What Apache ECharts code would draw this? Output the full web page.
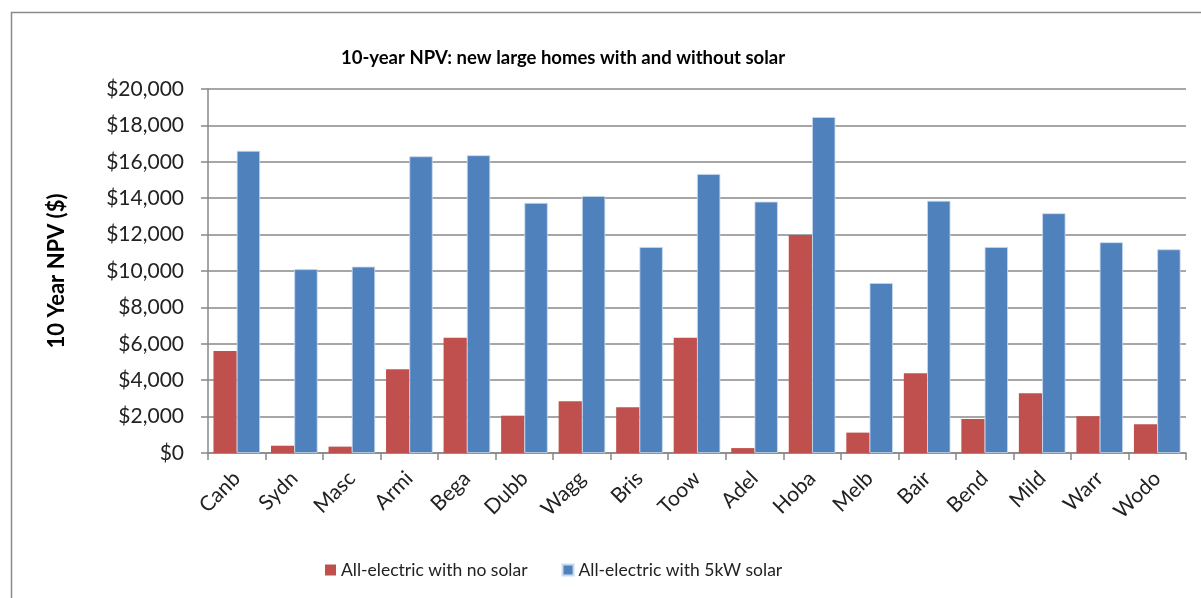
<!DOCTYPE html>
<html>
<head>
<meta charset="utf-8">
<script src="https://cdn.jsdelivr.net/npm/echarts@6/dist/echarts.min.js"></script>
<style>
html,body{margin:0;padding:0;background:#fff;}
#chart{width:1201px;height:598px;}
</style>
</head>
<body>
<div id="chart"></div>
<script>
const categories = ["Canb","Sydn","Masc","Armi","Bega","Dubb","Wagg","Bris","Toow","Adel","Hoba","Melb","Bair","Bend","Mild","Warr","Wodo"];
const noSolar = [5600, 400, 350, 4600, 6330, 2050, 2840, 2510, 6330, 270, 11980, 1120, 4380, 1870, 3280, 2020, 1580];
const withSolar = [16600, 10100, 10240, 16300, 16360, 13740, 14120, 11320, 15330, 13810, 18460, 9340, 13860, 11320, 13170, 11580, 11190];
const seriesNames = ["All-electric with no solar", "All-electric with 5kW solar"];
const titleText = "10-year NPV: new large homes with and without solar";
const yAxisName = "10 Year NPV ($)";

const FONT = "Lato, 'Open Sans', sans-serif";
const chart = echarts.init(document.getElementById('chart'), null, {renderer: 'canvas'});
chart.setOption({
  animation: false,
  backgroundColor: '#fff',
  graphic: [{
    type: 'rect', left: 9, top: 10, silent: true,
    shape: {x: 0, y: 0, width: 1300, height: 700},
    style: {fill: 'none', stroke: '#8a8a8a', lineWidth: 1.5}
  }],
  title: {
    text: titleText, left: 558, top: 44, textAlign: 'center',
    textStyle: {fontFamily: FONT, fontSize: 18.5, fontWeight: 'bold', color: '#000'}
  },
  legend: {
    bottom: 14, left: 320, itemWidth: 11, itemHeight: 11, itemGap: 34,
    icon: 'rect',
    textStyle: {fontFamily: FONT, fontSize: 17.5, color: '#222'}
  },
  grid: {left: 208, right: 15, top: 89, bottom: 145, containLabel: false},
  xAxis: {
    type: 'category', data: categories,
    axisLine: {lineStyle: {color: '#888', width: 1.5}},
    axisTick: {show: true, length: 7, alignWithLabel: false, lineStyle: {color: '#888', width: 1.5}},
    axisLabel: {rotate: 45, margin: 22, interval: 0, fontFamily: FONT, fontSize: 21, color: '#222'}
  },
  yAxis: {
    type: 'value', min: 0, max: 20000, interval: 2000,
    name: yAxisName, nameLocation: 'middle', nameGap: 140, nameRotate: 90,
    nameTextStyle: {fontFamily: FONT, fontSize: 22, fontWeight: 'bold', color: '#000'},
    axisLine: {show: true, lineStyle: {color: '#888', width: 1.5}},
    axisTick: {show: true, length: 7, lineStyle: {color: '#888', width: 1.5}},
    splitLine: {lineStyle: {color: '#888', width: 1.5}},
    axisLabel: {
      margin: 24, fontFamily: FONT, fontSize: 21, color: '#222',
      formatter: v => '$' + v.toLocaleString('en-US')
    }
  },
  series: [
    {name: seriesNames[0], type: 'bar', data: noSolar, barGap: '0%', barCategoryGap: '19%',
     itemStyle: {color: '#C0504D'}},
    {name: seriesNames[1], type: 'bar', data: withSolar, barGap: '0%', barCategoryGap: '19%',
     itemStyle: {color: '#4F81BD', borderColor: '#c9d9ee', borderWidth: 0.8}}
  ]
});
</script>
</body>
</html>
